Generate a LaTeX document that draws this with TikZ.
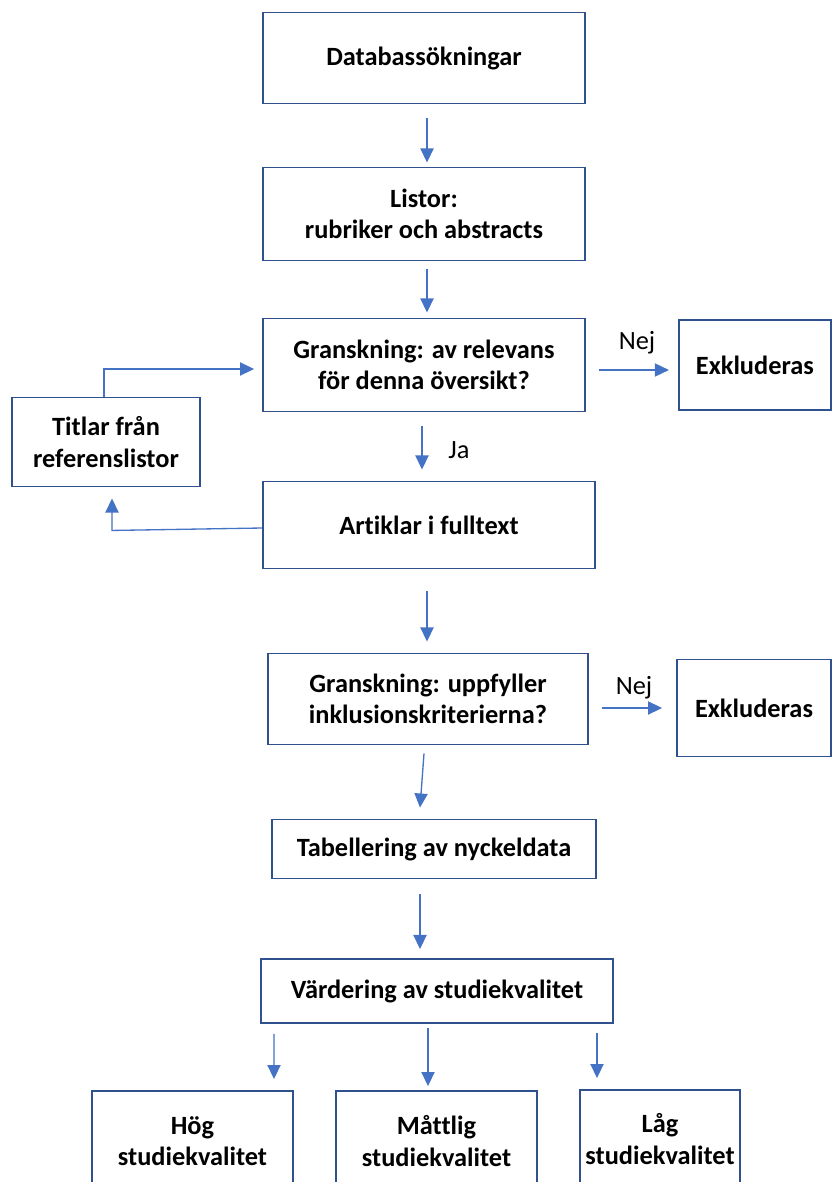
\documentclass[tikz,border=0pt]{standalone}
\usepackage{fontspec}
\setmainfont{Carlito}[Ligatures=NoCommon]
\usepackage{tikz}
\usetikzlibrary{positioning,arrows.meta,calc}
\definecolor{boxblue}{HTML}{2F528F}
\definecolor{arrblue}{HTML}{4472C4}
\tikzstyle{bx}=[draw=boxblue, line width=1.1pt, align=center, font=\bfseries, inner sep=2pt]
\tikzstyle{lb}=[font=\mdseries, inner sep=1pt]
\tikzstyle{ar}=[-{Triangle[width=7.5pt,length=8pt]}, draw=arrblue, line width=0.75pt]

\begin{document}
\fontsize{15}{18}\selectfont
\begin{tikzpicture}[x=0.02cm, y=-0.02cm]
	\useasboundingbox (0,0) rectangle (832,1182);
	\clip (0,0) rectangle (832,1182);

	\node[bx, minimum width=6.44cm, minimum height=1.82cm] (db) at (424,58) {Databassökningar};
	\node[bx, minimum width=6.44cm, minimum height=1.86cm] (listor) at (424,214) {Listor:\\ rubriker och abstracts};
	\node[bx, minimum width=6.44cm, minimum height=1.86cm] (gr1) at (424,365) {Granskning: av relevans\\för denna översikt?};
	\node[bx, minimum width=3.04cm, minimum height=1.8cm] (ex1) [right = 1.84cm of gr1] {Exkluderas};
	\node[bx, minimum width=3.76cm, minimum height=1.78cm] (tit) at (106,442) {Titlar från\\referenslistor};
	\node[bx, minimum width=6.64cm, minimum height=1.74cm] (art) at (429,525) {Artiklar i fulltext};

	\node[bx, minimum width=6.4cm, minimum height=1.82cm] (gr2) at (428,699) {Granskning: uppfyller\\inklusionskriterierna?};
	\node[bx, minimum width=3.08cm, minimum height=1.94cm] (ex2) at (754,708) {Exkluderas};
	\node[bx, minimum width=6.48cm, minimum height=1.18cm] (tab) at (434,849) {Tabellering av nyckeldata};
	\node[bx, minimum width=7.04cm, minimum height=1.28cm] (var) at (437,991) {Värdering av studiekvalitet};

	\node[bx, minimum width=4.02cm, minimum height=2cm] (hog) at (192.5,1141) {Hög\\studiekvalitet};
	\node[bx, minimum width=4.02cm, minimum height=2cm] (mat) at (436.5,1141) {Måttlig\\studiekvalitet};
	\node[bx, minimum width=3.2cm, minimum height=1.96cm] (lag) at (660,1139) {Låg\\studiekvalitet};

	\node[lb] (nej1) at (637,343) {Nej};
	\node[lb] (ja) at (459,450) {Ja};
	\node[lb] (nej2) at (634,688) {Nej};

	\draw[ar] ($(db.south)+(3,14)$) -- ($(listor.north)+(3,-4)$);
	\draw[ar] ($(listor.south)+(3,8)$) -- ($(gr1.north)+(3,-5)$);
	\draw[ar] ($(gr1.east)+(13,5)$) -- ($(ex1.west)+(-9,5)$);
	\draw[ar] ($(gr1.south)+(-2,14)$) -- ($(art.north)+(-7,-11)$);
	\draw[ar] ($(art.west)+(0,3)$) -- ($(tit.south)+(6,43)$) -- ($(tit.south)+(6,11)$);
	\draw[ar] ($(tit.north)+(-2,0)$) |- ($(gr1.west)+(-8,4)$);
	\draw[ar] ($(art.south)+(-2,22)$) -- ($(gr2.north)+(-1,-11)$);
	\draw[ar] ($(gr2.east)+(13,9)$) -- ($(ex2.west)+(-14,0)$);
	\draw[ar] ($(gr2.south)+(-4,8)$) -- ($(tab.north)+(-14,-11)$);
	\draw[ar] ($(tab.south)+(-14,15)$) -- ($(var.north)+(-17,-9)$);
	\draw[ar] ($(var.south)+(-163,10)$) -- ($(hog.north)+(81.5,-11)$);
	\draw[ar] ($(var.south)+(-9,4)$) -- ($(mat.north)+(-8.5,-4)$);
	\draw[ar] ($(var.south)+(160,9)$) -- ($(lag.north)+(-63,-11)$);
\end{tikzpicture}
\end{document}
